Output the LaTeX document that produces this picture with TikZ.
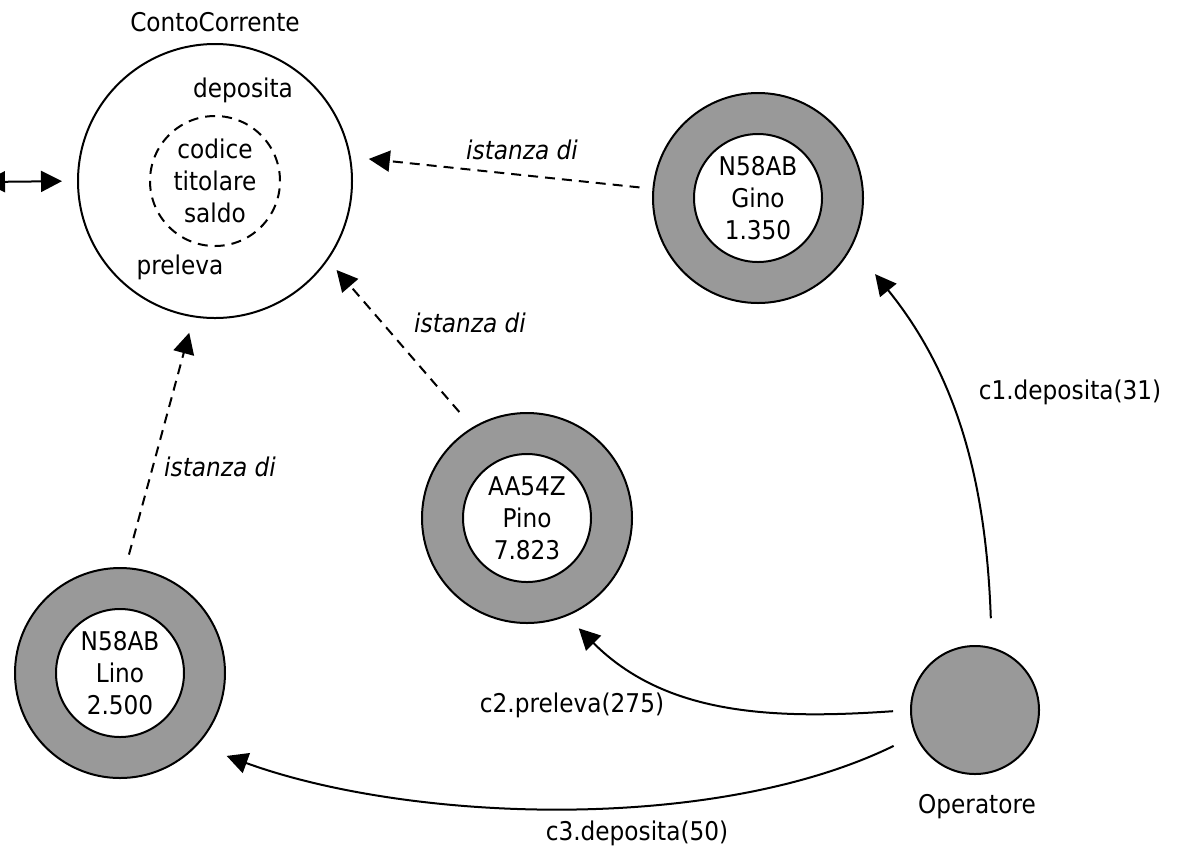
\documentclass[tikz,border=0pt]{standalone}
\usepackage{fontspec}
\setmainfont{DejaVu Sans}[FakeStretch=0.9]
\usetikzlibrary{arrows.meta,positioning}
\definecolor{ringgray}{RGB}{153,153,153}

\begin{document}
\fontsize{12.9}{16}\selectfont
\begin{tikzpicture}[
  x=0.5pt,y=-0.5pt,
  line width=1pt,
  >={Triangle[length=10.5pt,width=10.5pt]},
  class/.style={circle,draw,minimum size=137pt,inner sep=0pt},
  attrs/.style={circle,draw,dash pattern=on 5pt off 3.5pt,minimum size=65pt,inner sep=0pt,align=center},
  ring/.style={circle,draw,fill=ringgray,minimum size=105pt,inner sep=0pt},
  core/.style={circle,draw,fill=white,minimum size=64pt,inner sep=0pt,align=center},
  actor/.style={circle,draw,fill=ringgray,minimum size=64pt,inner sep=0pt},
  inst/.style={->,dash pattern=on 5pt off 3.5pt},
  call/.style={->},
  lbl/.style={inner sep=0pt},
  istlbl/.style={inner sep=0pt,font=\itshape},
  ]
  \useasboundingbox (0,0) rectangle (1177,853);

  %class
  \node (cc) [class] at (215,181) {};
  \node (cc_attr) [attrs] at (215,181) {codice\\titolare\\saldo};
  \node (cc_name) [lbl] at (215,22) {ContoCorrente};
  \node (cc_dep) [lbl] at (243,90) {deposita};
  \node (cc_pre) [lbl] at (180,267) {preleva};

  %outside
  \coordinate (ext) at (-16,182);
  \draw[<->,shorten >=7.5pt] (ext) -- (cc.west);

  %objects
  \foreach \n/\x/\y/\id/\who/\amt in {gino/758/198/N58AB/Gino/1.350,pino/527/518/AA54Z/Pino/7.823,lino/120/673/N58AB/Lino/2.500}
   {
     \node (\n) [ring] at (\x,\y) {};
     \node (\n_in) [core] at (\x,\y) {\id\\\who\\\amt};
   }

  %operatore
  \node (op) [actor] at (975,710) {};
  \node (op_name) [lbl] at (977,807) {Operatore};

  %istanza di
  \draw[inst,shorten <=6.5pt,shorten >=9pt] (gino.175) -- (cc.10);
  \node (ist_gino) [istlbl] at (522,150) {istanza di};
  \draw[inst,shorten <=10pt,shorten >=6.5pt] (pino.121) -- (cc.-35);
  \node (ist_pino) [istlbl] at (470,323) {istanza di};
  \draw[inst,shorten <=6.5pt,shorten >=8pt] (lino.87) -- (cc.-99);
  \node (ist_lino) [istlbl] at (220,467) {istanza di};

  %calls
  \draw[call,shorten <=14.5pt,shorten >=18pt] (op.75) to[out=92,in=-51] (gino.-27);
  \node (c1) [lbl] at (1070,392) {c1.deposita(31)};
  \draw[call,shorten <=8.5pt,shorten >=8.5pt] (op.180) to[out=184,in=-45] (pino.-68);
  \node (c2) [lbl] at (572,705) {c2.preleva(275)};
  \draw[call,shorten <=12pt,shorten >=15.5pt,looseness=0.8] (op.203) to[out=206,in=-20] (lino.-43);
  \node (c3) [lbl] at (637,833) {c3.deposita(50)};

\end{tikzpicture}
\end{document}
